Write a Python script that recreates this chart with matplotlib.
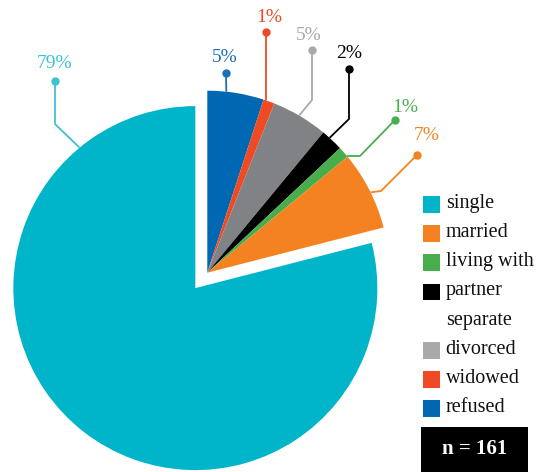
import matplotlib
matplotlib.use("Agg")
import matplotlib.pyplot as plt
import numpy as np
from matplotlib.patches import Rectangle

# ---- data ----
categories = ["refused", "widowed", "divorced", "separate", "living with partner", "married", "single"]
values = [5, 1, 5, 2, 1, 7, 79]
labels = ["5%", "1%", "5%", "2%", "1%", "7%", "79%"]
slice_colors = ["#0068B3", "#EE4A24", "#808285", "#000000", "#48AE4C", "#F58220", "#00B5C9"]
label_colors = ["#1A6FB6", "#EE4A24", "#A7A9AC", "#000000", "#48AE4C", "#F58220", "#3CC1D2"]
legend_text = ["single", "married", "living with", "partner", "separate", "divorced", "widowed", "refused"]
legend_colors = ["#00B5C9", "#F58220", "#48AE4C", "#000000", None, "#A7A9AC", "#EE4A24", "#0068B3"]
n_text = "n = 161"

W, H = 539, 472
fig = plt.figure(figsize=(W / 100, H / 100), dpi=100)
ax = fig.add_axes([0, 0, 1, 1])

def P(x, y):
    return (x, H - y)

R = 182
cx, cy = P(207.3, 272.7)
explode = [0, 0, 0, 0, 0, 0, 19.5]
wedges, _ = ax.pie(values, colors=slice_colors, startangle=90, counterclock=False,
                   radius=R, center=(cx, cy), explode=explode,
                   wedgeprops=dict(linewidth=0), frame=True)
ax.set_xlim(0, W)
ax.set_ylim(0, H)
ax.set_aspect("equal")
ax.axis("off")

serif = ["Liberation Serif", "DejaVu Serif"]

# leader layout: attach angle, elbow (pixel or None), dot (pixel), text (pixel)
layout = [
    (84.0, None, (226, 73), (225, 58)),
    (71.2, None, (266, 32), (269, 18)),
    (59.7, (312, 100), (312, 50), (309, 35)),
    (47.8, (349, 119), (349, 69), (349, 53)),
    (39.9, (360, 156), (395, 120), (405, 107)),
    (26.2, (381, 191), (417, 155), (427, 136)),
    (129.5, (55, 124), (55, 81), (55, 64)),
]
for w, lab, col, (ang, elbow, dot, tpos) in zip(wedges, labels, label_colors, layout):
    wc = w.center
    a = np.deg2rad(ang)
    attach = (wc[0] + R * np.cos(a), wc[1] + R * np.sin(a))
    pts = [attach]
    if elbow is not None:
        pts.append(P(*elbow))
    pts.append(P(*dot))
    xs, ys = zip(*pts)
    ax.plot(xs, ys, color=col, lw=1.3, solid_capstyle="butt", zorder=3)
    ax.plot(*P(*dot), "o", color=col, ms=5, zorder=4)
    ax.text(*P(*tpos), lab, color=col, fontsize=14, family=serif,
            ha="center", va="center", zorder=5)

# legend
y0, dy = 204.3, 29.2
for i, (t, c) in enumerate(zip(legend_text, legend_colors)):
    yc = y0 + i * dy
    if c is not None:
        x, y = P(422.7, yc + 8.3)
        ax.add_patch(Rectangle((x, y), 17.3, 16.6, facecolor=c, edgecolor="none"))
    ax.text(*P(445.7, yc - 1), t, fontsize=14.5, family=serif, color="#111111",
            ha="left", va="center")

# n box
bx, by = P(420.7, 472)
ax.add_patch(Rectangle((bx, by), 107, 472 - 426.7, facecolor="black", edgecolor="none"))
ax.text(*P(474.2, 449), n_text, fontsize=15, family=serif, fontweight="bold",
        color="white", ha="center", va="center")

fig.savefig("out.png", dpi=100)
